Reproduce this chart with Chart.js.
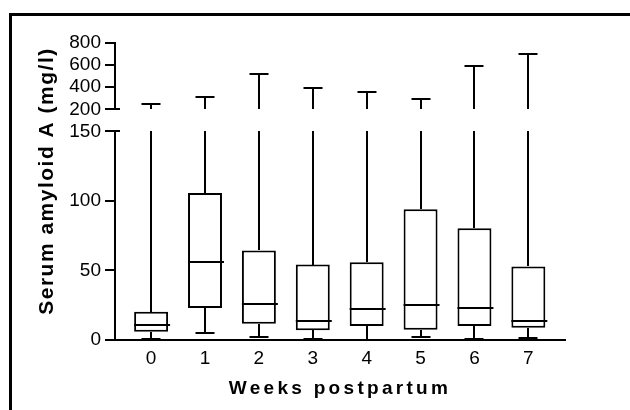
<!DOCTYPE html>
<html>
<head>
<meta charset="utf-8">
<script src="https://cdn.jsdelivr.net/npm/chart.js@4/dist/chart.umd.min.js"></script>
<style>
  html, body { margin: 0; padding: 0; background: #fff; }
  #wrap { position: relative; width: 630px; height: 410px; overflow: hidden; }
  #frame { position: absolute; left: 9px; top: 13px; width: 700px; height: 500px;
           border-left: 3px solid #000; border-top: 3px solid #000; }
  canvas { position: absolute; left: 0; top: 0; }
</style>
</head>
<body>
<div id="wrap">
  <div id="frame"></div>
  <canvas id="chart" width="630" height="410"></canvas>
</div>
<script>
// ── Data ────────────────────────────────────────────────────────────────────
const WEEKS   = [0, 1, 2, 3, 4, 5, 6, 7];
const MINS    = [0.5, 5, 1.9, 0.7, 0.3, 1.9, 0.7, 1.4];
const Q1      = [6, 23, 11.7, 7, 10, 7.4, 10, 8.8];
const MEDIANS = [10.5, 56, 26, 13.4, 22, 25.1, 23.2, 13.9];
const Q3      = [20.3, 105.7, 64.4, 54.3, 56, 94, 80.4, 52.9];
const MAXES   = [245, 309, 523, 391, 357, 296, 596, 705];

const LOW_TICKS  = [0, 50, 100, 150];
const HIGH_TICKS = [200, 400, 600, 800];
const BREAK_LOW  = 150;
const BREAK_HIGH = 200;

const X_TITLE = 'Weeks postpartum';
const Y_TITLE = 'Serum amyloid A (mg/l)';

const FONT = '"Liberation Sans", Arial, Helvetica, sans-serif';
const INK = '#000';

// ── Whiskers, medians and the broken axis ───────────────────────────────────
const boxParts = {
  id: 'boxParts',
  afterDatasetsDraw(chart) {
    const { ctx, scales: { x, y, y2 } } = chart;
    const meta = chart.getDatasetMeta(0);
    const line = (x0, y0, x1, y1) => {
      ctx.beginPath(); ctx.moveTo(x0, y0); ctx.lineTo(x1, y1); ctx.stroke();
    };
    const py  = v => Math.round(y.getPixelForValue(v));
    const py2 = v => Math.round(y2.getPixelForValue(v));
    const capHalf = 9.5;

    ctx.save();
    ctx.strokeStyle = INK;
    ctx.lineWidth = 2;

    WEEKS.forEach((w, i) => {
      const cx = Math.round(x.getPixelForValue(w));
      const el = meta.data[i];

      // lower whisker + cap
      line(cx, py(Q1[i]), cx, py(MINS[i]));
      line(cx - capHalf, py(MINS[i]), cx + capHalf, py(MINS[i]));

      // upper whisker, split across the break
      line(cx, py(Q3[i]), cx, py(Math.min(MAXES[i], BREAK_LOW)));
      if (MAXES[i] > BREAK_HIGH) {
        line(cx, py2(BREAK_HIGH), cx, py2(MAXES[i]));
        line(cx - capHalf, py2(MAXES[i]), cx + capHalf, py2(MAXES[i]));
      }

      // median
      const left = el.x - el.width / 2;
      const right = el.x + el.width / 2;
      line(left, py(MEDIANS[i]), right + 2, py(MEDIANS[i]));
    });

    // upper axis segment and the little break marks
    const ax = Math.round(chart.chartArea.left);
    line(ax, py2(HIGH_TICKS[HIGH_TICKS.length - 1]) - 1, ax, py2(BREAK_HIGH) + 1);
    line(ax, py2(BREAK_HIGH), ax + 5, py2(BREAK_HIGH));
    line(ax, py(BREAK_LOW), ax + 5, py(BREAK_LOW));
    ctx.restore();
  }
};

// ── Axis titles (letter-spaced like the original) ───────────────────────────
const axisTitles = {
  id: 'axisTitles',
  afterDraw(chart) {
    const { ctx, chartArea: a } = chart;
    ctx.save();
    ctx.fillStyle = INK;
    ctx.textAlign = 'center';
    ctx.textBaseline = 'middle';

    ctx.font = `bold 19px ${FONT}`;
    ctx.letterSpacing = '3.3px';
    ctx.fillText(X_TITLE, (a.left + a.right) / 2, a.bottom + 49);

    ctx.font = `bold 21px ${FONT}`;
    ctx.letterSpacing = '1.5px';
    ctx.translate(47, 181);
    ctx.rotate(-Math.PI / 2);
    ctx.fillText(Y_TITLE, 0, 0);
    ctx.restore();
  }
};

const tickFont = { family: FONT, size: 19 };
const yGrid = { display: true, drawOnChartArea: false, drawTicks: true, tickLength: 10, color: INK, lineWidth: 2 };

new Chart(document.getElementById('chart'), {
  type: 'bar',
  data: {
    datasets: [{
      data: WEEKS.map((w, i) => ({ x: w, y: [Q1[i], Q3[i]] })),
      backgroundColor: '#fff',
      borderColor: INK,
      borderWidth: 2,
      borderSkipped: false,
      barPercentage: 0.63,
      categoryPercentage: 1,
      xAxisID: 'x',
      yAxisID: 'y',
    }],
  },
  options: {
    responsive: false,
    animation: false,
    events: [],
    layout: { padding: { left: 0, right: 65, top: 43, bottom: 0 } },
    plugins: { legend: { display: false }, tooltip: { enabled: false } },
    scales: {
      x: {
        type: 'linear',
        position: 'bottom',
        offset: false,
        min: -0.67,
        max: 7.68,
        grid: { display: false, offset: false, tickLength: 5 },
        border: { display: true, color: INK, width: 2 },
        ticks: { color: INK, font: tickFont, padding: 2, maxRotation: 0, autoSkip: false },
        afterBuildTicks: s => { s.ticks = WEEKS.map(v => ({ value: v })); },
        afterFit: s => { s.height = 70; },
      },
      y: {
        type: 'linear',
        position: 'left',
        stack: 'saa',
        stackWeight: 2.083,
        min: 0,
        max: 150,
        grid: yGrid,
        border: { display: true, color: INK, width: 2 },
        ticks: { color: INK, font: tickFont, padding: 4, autoSkip: false },
        afterBuildTicks: s => { s.ticks = LOW_TICKS.map(v => ({ value: v })); },
        afterFit: s => { s.width = 115; },
      },
      y2: {
        type: 'linear',
        position: 'left',
        stack: 'saa',
        stackWeight: 0.884,
        min: 0,
        max: 800,
        grid: yGrid,
        border: { display: false },
        ticks: { color: INK, font: tickFont, padding: 4, autoSkip: false },
        afterBuildTicks: s => { s.ticks = HIGH_TICKS.map(v => ({ value: v })); },
        afterFit: s => { s.width = 115; },
      },
    },
  },
  plugins: [boxParts, axisTitles],
});
</script>
</body>
</html>
